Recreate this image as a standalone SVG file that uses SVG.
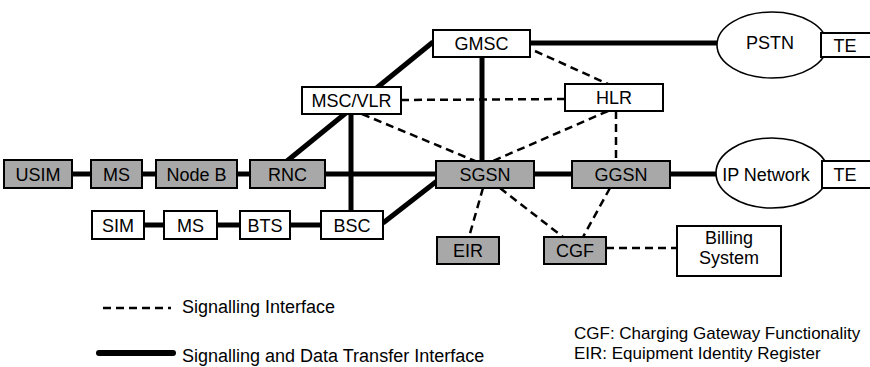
<svg xmlns="http://www.w3.org/2000/svg" width="870" height="367" viewBox="0 0 870 367">
<defs>
<style>
text{font-family:"Liberation Sans",Arial,sans-serif;font-size:18px;fill:#000;text-anchor:middle}
.box{fill:#fff;stroke:#000;stroke-width:2}
.g{fill:#a8a8a8;stroke:#000;stroke-width:2}
.ell{fill:#fff;stroke:#000;stroke-width:1.6}
.thick{stroke:#000;stroke-width:5;fill:none}
.dash{stroke:#000;stroke-width:2.5;fill:none;stroke-dasharray:8 5}
.lt{text-anchor:start}
.sm{font-size:17px}
</style>
</defs>
<rect width="870" height="367" fill="#fff"/>
<g id="connectors">
<line class="thick" x1="72" y1="174" x2="91" y2="174"/>
<line class="thick" x1="142" y1="174" x2="156" y2="174"/>
<line class="thick" x1="237" y1="174" x2="250" y2="174"/>
<line class="thick" x1="325" y1="174" x2="436" y2="174" stroke-width="4.5"/>
<line class="thick" x1="534" y1="174" x2="572" y2="174"/>
<line class="thick" x1="670" y1="174" x2="717" y2="174"/>
<line class="thick" x1="144" y1="225" x2="164" y2="225"/>
<line class="thick" x1="217" y1="225" x2="240" y2="225"/>
<line class="thick" x1="290" y1="225" x2="321" y2="225"/>
<line class="thick" x1="383" y1="223" x2="437" y2="181"/>
<line class="thick" x1="287" y1="161" x2="433" y2="42"/>
<line class="thick" x1="351" y1="114" x2="351" y2="211"/>
<line class="thick" x1="482" y1="57" x2="482" y2="161"/>
<line class="thick" x1="531" y1="43" x2="717" y2="43"/>
<line class="dash" x1="401" y1="100" x2="565" y2="99"/>
<line class="dash" x1="362" y1="114" x2="475" y2="161"/>
<line class="dash" x1="535" y1="51" x2="608" y2="84"/>
<line class="dash" x1="608" y1="111" x2="493" y2="161"/>
<line class="dash" x1="616" y1="111" x2="616" y2="161"/>
<line class="dash" x1="483" y1="188" x2="469" y2="237"/>
<line class="dash" x1="500" y1="188" x2="563" y2="237"/>
<line class="dash" x1="610" y1="188" x2="583" y2="237"/>
<line class="dash" x1="606" y1="248" x2="677" y2="248"/>
</g>
<g id="USIM"><rect class="g" x="4" y="160" width="68" height="28"/><text x="38" y="180.5">USIM</text></g>
<g id="MS_U"><rect class="g" x="91" y="160" width="51" height="28"/><text x="116.5" y="180.5">MS</text></g>
<g id="NodeB"><rect class="g" x="156" y="160" width="81" height="28"/><text x="196.5" y="180.5">Node B</text></g>
<g id="RNC"><rect class="g" x="250" y="160" width="75" height="28"/><text x="287.5" y="180.5">RNC</text></g>
<g id="SIM"><rect class="box" x="92" y="211" width="52" height="28"/><text x="118" y="231.5">SIM</text></g>
<g id="MS_G"><rect class="box" x="164" y="211" width="53" height="28"/><text x="190.5" y="231.5">MS</text></g>
<g id="BTS"><rect class="box" x="240" y="211" width="50" height="28"/><text x="265" y="231.5">BTS</text></g>
<g id="BSC"><rect class="box" x="321" y="211" width="62" height="28"/><text x="352" y="231.5">BSC</text></g>
<g id="GMSC"><rect class="box" x="433" y="30" width="97" height="27"/><text x="481.5" y="50">GMSC</text></g>
<g id="MSCVLR"><rect class="box" x="302" y="87" width="99" height="27"/><text x="351.5" y="107">MSC/VLR</text></g>
<g id="HLR"><rect class="box" x="565" y="84" width="98" height="27"/><text x="614" y="104">HLR</text></g>
<g id="SGSN"><rect class="g" x="436" y="161" width="98" height="27"/><text x="485" y="181">SGSN</text></g>
<g id="GGSN"><rect class="g" x="572" y="161" width="98" height="27"/><text x="621" y="181">GGSN</text></g>
<g id="EIR"><rect class="g" x="437" y="237" width="62" height="27"/><text x="468" y="257">EIR</text></g>
<g id="CGF"><rect class="g" x="544" y="237" width="62" height="27"/><text x="575" y="257">CGF</text></g>
<g id="Billing"><rect class="box" x="677" y="226" width="104" height="50"/><text x="729" y="244">Billing</text><text x="729" y="264">System</text></g>
<g id="PSTN"><ellipse class="ell" cx="772" cy="45" rx="55" ry="33"/><text x="770" y="49">PSTN</text></g>
<g id="TE1"><rect class="box" x="821" y="33" width="60" height="24" stroke-width="1.6"/><text x="845" y="51.5">TE</text></g>
<g id="IPNetwork"><ellipse class="ell" cx="772" cy="173" rx="56" ry="35"/><text x="766" y="180.5">IP Network</text></g>
<g id="TE2"><rect class="box" x="822" y="161" width="60" height="27" stroke-width="1.6"/><text x="845" y="181">TE</text></g>
<g id="legend">
<line x1="103" y1="308" x2="165" y2="308" stroke="#000" stroke-width="2.5" stroke-dasharray="8 5"/>
<line x1="168" y1="308" x2="171" y2="308" stroke="#000" stroke-width="2.5"/>
<text class="lt" x="182" y="313">Signalling Interface</text>
<line x1="99" y1="353" x2="173" y2="353" stroke="#000" stroke-width="6" stroke-linecap="round"/>
<text class="lt" x="182" y="362">Signalling and Data Transfer Interface</text>
<text class="lt sm" x="574" y="339">CGF: Charging Gateway Functionality</text>
<text class="lt sm" x="574" y="359">EIR: Equipment Identity Register</text>
</g>
</svg>
